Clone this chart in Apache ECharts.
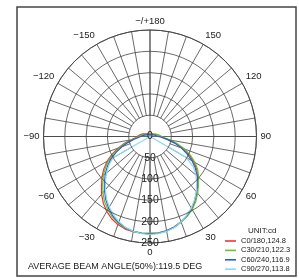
<!DOCTYPE html>
<html>
<head>
<meta charset="utf-8">
<script src="https://cdn.jsdelivr.net/npm/echarts@6/dist/echarts.min.js"></script>
<style>
  html, body { margin: 0; padding: 0; background: #fff; }
  #chart { width: 299px; height: 278px; }
</style>
</head>
<body>
<div id="chart"></div>
<script>
  // angles: 0 = straight down, positive to the right
  var angles = [-180,-150,-120,-110,-100,-90,-85,-80,-75,-70,-65,-60,-55,-50,-45,-40,-35,-30,-25,-20,-15,-10,-5,
                0,5,10,15,20,25,30,35,40,45,50,55,60,65,70,75,80,85,90,100,110,120,150,180];
  var c0 = [6,7,12,18,24,28,34,45,62,80,98,116,132,147,161,177,191,203,213,220,225,227,228,
            228,227,225,220,213,205,196,184,171,158,146,134,119,102,83,64,45,32,26,20,16,11,7,6];
  var c30 = [5,6,10,15,20,25,31,42,58,76,94,112,128,143,157,172,186,198,209,217,223,226,227,
             227,227,225,221,214,207,198,187,174,161,149,137,122,105,86,67,48,34,27,21,16,11,6,5];
  var c60 = [4,5,8,12,16,20,27,38,53,70,88,106,122,137,151,166,181,194,206,215,222,226,228,
             229,228,225,220,213,205,195,183,170,157,144,130,114,96,78,60,42,28,20,14,10,7,5,4];
  var c90 = [null,null,null,null,null,0,null,null,null,null,null,100,118,133,148,163,178,191,203,213,221,226,229,
             230,229,226,221,213,204,194,182,169,155,141,125,98,null,null,null,null,null,0,null,null,null,null,null];
  var names = ['C0/180,124.8', 'C30/210,122.3', 'C60/240,116.9', 'C90/270,113.8'];
  var colors = ['#ee3535', '#66c22e', '#2b5ccc', '#8fd9ec'];
  var radiusTicks = [0, 250, 50];

  function toPairs(vals) {
    var out = [];
    for (var i = 0; i < angles.length; i++) {
      if (vals[i] === null) continue;
      out.push([vals[i], (angles[i] + 360) % 360]);
    }
    return out;
  }

  var font = 'Liberation Sans, Arial, sans-serif';
  var gridColor = '#444';
  var center = [150, 136.5];

  var chart = echarts.init(document.getElementById('chart'), null, {renderer: 'canvas'});
  chart.setOption({
    backgroundColor: '#fff',
    animation: false,
    polar: [
      {center: center, radius: [0, 106.5]},
      {center: center, radius: [21, 106.5]}
    ],
    angleAxis: [
      {
        polarIndex: 0, type: 'value', min: 0, max: 360, interval: 90,
        startAngle: 270, clockwise: false,
        axisLine: {show: true, lineStyle: {color: gridColor, width: 0.9}},
        axisTick: {show: false},
        axisLabel: {show: false},
        splitLine: {show: true, lineStyle: {color: gridColor, width: 0.8}}
      },
      {
        polarIndex: 1, type: 'value', min: 0, max: 360, interval: 10,
        startAngle: 270, clockwise: false,
        axisLine: {show: false},
        axisTick: {show: false},
        axisLabel: {
          show: true, margin: 4, fontSize: 9.5, color: '#222', fontFamily: font,
          formatter: function (v) {
            if (v % 30 !== 0 || v === 360) return '';
            if (v === 180) return '\u2212/+180';
            if (v > 180) return '\u2212' + (360 - v);
            return String(v);
          }
        },
        splitLine: {show: true, lineStyle: {color: gridColor, width: 0.8}}
      }
    ],
    radiusAxis: [
      {
        polarIndex: 0, type: 'value', min: radiusTicks[0], max: radiusTicks[1], interval: radiusTicks[2],
        axisLine: {show: false},
        axisTick: {show: false},
        axisLabel: {show: true, margin: 0, align: 'center', verticalAlign: 'middle',
                    fontSize: 10.5, color: '#222', fontFamily: font},
        splitLine: {show: true, lineStyle: {color: gridColor, width: 0.8}},
        z: 5
      },
      {
        polarIndex: 1, type: 'value', min: 0, max: 250, show: false
      }
    ],
    legend: {
      orient: 'vertical', left: 225, top: 237, padding: 0,
      icon: 'rect', itemWidth: 11, itemHeight: 1.6, itemGap: 1.4, selectedMode: false,
      textStyle: {fontSize: 7.5, color: '#1a1a1a', fontFamily: font, lineHeight: 8},
      data: names
    },
    series: names.map(function (n, i) {
      return {
        name: n, type: 'line', coordinateSystem: 'polar', polarIndex: 0,
        data: toPairs([c0, c30, c60, c90][i]),
        symbol: 'none', connectNulls: true,
        lineStyle: {color: colors[i], width: 1.2},
        itemStyle: {color: colors[i]},
        z: 3
      };
    }),
    graphic: [
      {type: 'rect', shape: {x: 17, y: 7, width: 279, height: 269}, silent: true,
       style: {fill: 'none', stroke: '#444', lineWidth: 1.5}},
      {type: 'text', left: 248, top: 227,
       style: {text: 'UNIT:cd', fontSize: 8, fill: '#1a1a1a', fontFamily: font}},
      {type: 'text', left: 28, top: 262,
       style: {text: 'AVERAGE BEAM ANGLE(50%):119.5 DEG', fontSize: 9, fill: '#1a1a1a', fontFamily: font}}
    ]
  });
</script>
</body>
</html>
